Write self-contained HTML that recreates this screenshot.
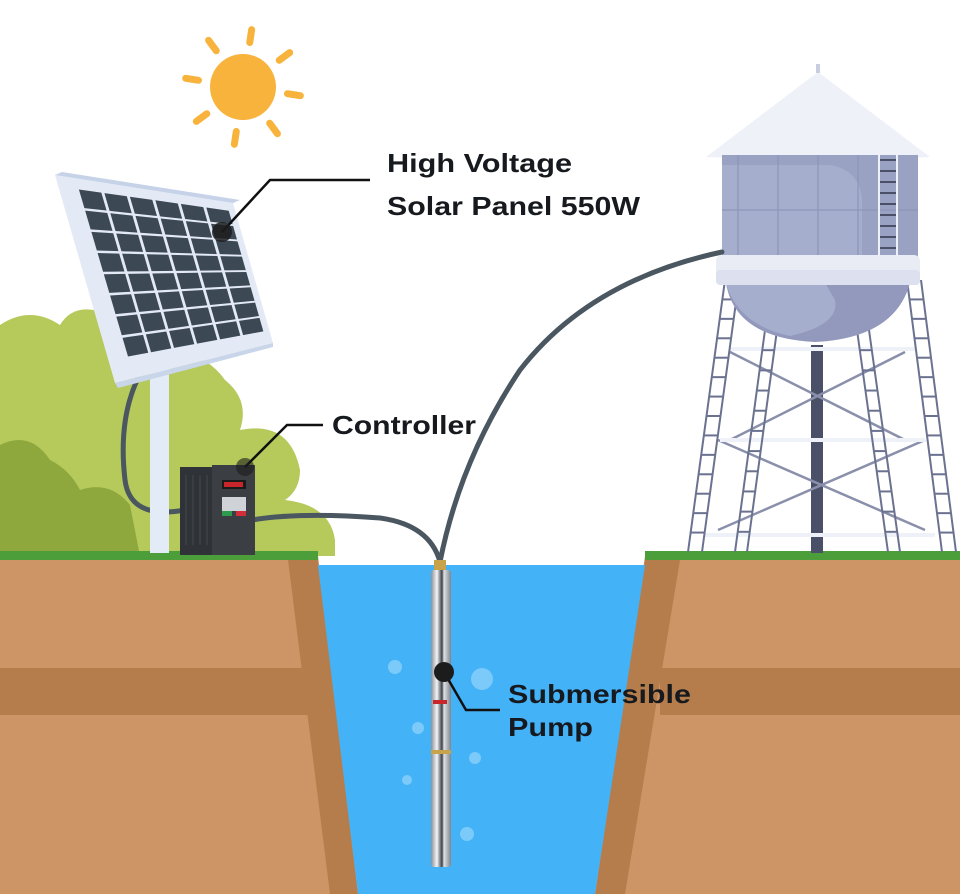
<!DOCTYPE html>
<html><head><meta charset="utf-8"><style>
html,body{margin:0;padding:0;background:#fff;}
svg{display:block}
text{font-family:"Liberation Sans",sans-serif;font-weight:bold;fill:#161a1e}
</style></head><body>
<svg id="s" width="960" height="894" viewBox="0 0 960 894" xmlns="http://www.w3.org/2000/svg">
<rect width="960" height="894" fill="#fff"/>
<!-- bushes -->
<path d="M0 325 Q30 305 60 325 Q75 300 110 315 L160 360 Q200 345 225 380 Q250 400 240 430 Q290 420 300 470 Q300 490 285 500 Q330 505 335 540 L335 556 L0 556 Z" fill="#b6c95b"/>
<path d="M0 445 Q30 430 50 460 Q70 470 80 490 Q110 480 130 505 L140 556 L0 556 Z" fill="#8fa83e"/>
<!-- sun -->
<g stroke="#f8b33d" stroke-width="7" stroke-linecap="round" fill="none" id="rays"></g>
<circle cx="243" cy="87" r="33" fill="#f8b33d"/>
<!-- ground left -->
<polygon points="0,556 318,556 358,894 0,894" fill="#cd9466"/>
<polygon points="288,560 318,560 358,894 330,894" fill="#b67d4c"/>
<rect x="0" y="668" width="310" height="47" fill="#b67d4c"/>
<rect x="0" y="551" width="318" height="9" fill="#4c9e3a"/>
<!-- ground right -->
<polygon points="645,556 960,556 960,894 595,894" fill="#cd9466"/>
<polygon points="645,560 680,560 625,894 595,894" fill="#b67d4c"/>
<rect x="660" y="668" width="300" height="47" fill="#b67d4c"/>
<rect x="645" y="551" width="315" height="9" fill="#4c9e3a"/>
<!-- water -->
<polygon points="318,565 645,565 595,894 358,894" fill="#43b2f7"/>
<g fill="#7ccaf9">
<circle cx="395" cy="667" r="7"/><circle cx="482" cy="679" r="11"/><circle cx="418" cy="728" r="6"/><circle cx="475" cy="758" r="6"/><circle cx="407" cy="780" r="5"/><circle cx="467" cy="834" r="7"/>
</g>
<!-- tower -->
<g id="tower">
<rect x="811" y="345" width="12" height="208" fill="#4a5068"/>
<g id="legs"></g>
<path d="M706 157 L818 72 L930 157 Q818 162 706 157Z" fill="#eef1f8"/>
<rect x="816" y="64" width="4" height="9" fill="#c8cde0"/>
<rect x="722" y="155" width="196" height="102" fill="#9aa2c4"/>
<path d="M722 165 L830 165 Q860 170 862 200 L862 257 L722 257Z" fill="#a6aecd"/>
<g stroke="#8890b5" stroke-width="1"><line x1="738" y1="155" x2="738" y2="257"/><line x1="778" y1="155" x2="778" y2="257"/><line x1="818" y1="155" x2="818" y2="257"/><line x1="858" y1="155" x2="858" y2="257"/><line x1="722" y1="210" x2="918" y2="210"/></g>
<path d="M726 283 Q735 338 815 342 Q895 338 910 283Z" fill="#9299bd"/>
<path d="M726 283 Q738 325 790 336 Q840 325 835 300 L825 283Z" fill="#a6aecd"/>
<rect x="716" y="255" width="204" height="30" rx="6" fill="#e9ecf5"/>
<rect x="716" y="270" width="204" height="15" rx="4" fill="#dde1ef"/>
<g id="tl" stroke="#eef1f8" stroke-width="2" fill="none"><path d="M879 256 L879 144 Q888 136 897 144 L897 256"/></g>
</g>
<!-- cables -->
<g fill="none" stroke="#4a5660" stroke-width="5" stroke-linecap="round">
<path d="M138 378 Q118 420 125 480 Q130 520 185 510"/>
<path d="M252 520 Q300 512 380 518 Q430 525 440 562"/>
<path d="M440 562 Q460 460 520 370 Q590 280 722 252"/>
</g>
<!-- pole -->
<rect x="150" y="360" width="19" height="193" fill="#e3ebf6"/>
<!-- solar panel -->
<polygon points="55,175 233,203 273,343 115,383" fill="#e3eaf6"/>
<polygon points="55,175 62,172 240,200 233,203" fill="#c5d2e8"/>
<polygon points="115,383 273,343 273,347 118,388" fill="#c9d6ea"/>
<g id="cells" fill="#3c4955"></g>
<!-- controller -->
<rect x="180" y="467" width="40" height="88" fill="#2f3236"/>
<g stroke="#45494f" stroke-width="1"><line x1="186" y1="475" x2="186" y2="545"/><line x1="193" y1="475" x2="193" y2="545"/><line x1="200" y1="475" x2="200" y2="545"/><line x1="207" y1="475" x2="207" y2="545"/></g>
<rect x="212" y="465" width="43" height="90" fill="#3b3e43"/>
<rect x="222" y="480" width="24" height="9" fill="#1a1a1a"/><rect x="224" y="482" width="19" height="5" fill="#c8262a"/>
<rect x="222" y="497" width="24" height="14" fill="#cfd2d6"/>
<rect x="222" y="511" width="10" height="5" fill="#2e9b4c"/><rect x="236" y="511" width="10" height="5" fill="#d22f3a"/>
<!-- pump -->
<defs><linearGradient id="pg" x1="0" x2="1"><stop offset="0" stop-color="#8a8f96"/><stop offset=".3" stop-color="#f3f5f7"/><stop offset=".55" stop-color="#3c4148"/><stop offset=".65" stop-color="#dfe3e7"/><stop offset="1" stop-color="#7d838a"/></linearGradient></defs>
<rect x="434" y="560" width="12" height="10" fill="#c9a24c"/>
<rect x="431" y="570" width="20" height="297" rx="3" fill="url(#pg)"/>
<rect x="433" y="700" width="14" height="4" fill="#c8262a"/>
<rect x="431" y="750" width="20" height="4" fill="#c9a24c"/>
<!-- callouts -->
<g stroke="#111" stroke-width="2.5" fill="none">
<polyline points="222,232 270,180 370,180"/>
<polyline points="245,467 287,425 323,425"/>
<polyline points="444,672 466,710 500,710"/>
</g>
<circle cx="222" cy="232" r="10" fill="#1c1c1c" opacity=".85"/>
<circle cx="245" cy="467" r="9" fill="#1c1c1c" opacity=".6"/>
<circle cx="444" cy="672" r="10" fill="#1c1c1c"/>
<text x="387" y="172" font-size="26" textLength="185" lengthAdjust="spacingAndGlyphs">High Voltage</text>
<text x="387" y="215" font-size="26" textLength="253" lengthAdjust="spacingAndGlyphs">Solar Panel 550W</text>
<text x="332" y="434" font-size="26" textLength="144" lengthAdjust="spacingAndGlyphs">Controller</text>
<text x="508" y="703" font-size="26" textLength="183" lengthAdjust="spacingAndGlyphs">Submersible</text>
<text x="508" y="736" font-size="26" textLength="85" lengthAdjust="spacingAndGlyphs">Pump</text>
</svg>
<script>
var NS="http://www.w3.org/2000/svg";
function el(p,t,a){var e=document.createElementNS(NS,t);for(var k in a)e.setAttribute(k,a[k]);p.appendChild(e);return e;}
var r=document.getElementById("rays");
for(var i=0;i<8;i++){var a=i*Math.PI/4-Math.PI/2+0.15;el(r,"line",{x1:243+45*Math.cos(a),y1:87+45*Math.sin(a),x2:243+58*Math.cos(a),y2:87+58*Math.sin(a)});}
var TL=[77,188],TR=[230,210],BR=[265,332],BL=[127,358];
function P(u,v){var tx=TL[0]+(TR[0]-TL[0])*u,ty=TL[1]+(TR[1]-TL[1])*u,bx=BL[0]+(BR[0]-BL[0])*u,by=BL[1]+(BR[1]-BL[1])*u;return [tx+(bx-tx)*v,ty+(by-ty)*v];}
var c=document.getElementById("cells"),C=6,R=8,g=0.06;
for(var i=0;i<C;i++)for(var j=0;j<R;j++){var u0=i/C+g/C,u1=(i+1)/C-g/C,v0=j/R+g/R,v1=(j+1)/R-g/R;
var p=[P(u0,v0),P(u1,v0),P(u1,v1),P(u0,v1)];el(c,"polygon",{points:p.map(function(q){return q.join(",")}).join(" ")});}
var L=document.getElementById("legs");
function ladder(x1,y1,x2,y2,w){el(L,"line",{x1:x1,y1:y1,x2:x2,y2:y2,stroke:"#6b7290","stroke-width":2});el(L,"line",{x1:x1+w,y1:y1,x2:x2+w,y2:y2,stroke:"#6b7290","stroke-width":2});
var n=Math.round((y2-y1)/20);for(var k=1;k<n;k++){var t=k/n;el(L,"line",{x1:x1+(x2-x1)*t,y1:y1+(y2-y1)*t,x2:x1+w+(x2-x1)*t,y2:y1+(y2-y1)*t,stroke:"#6b7290","stroke-width":2});}}
var br=[[730,352,905,440],[905,352,730,440],[718,440,925,530],[925,440,718,530]];
br.forEach(function(b){el(L,"line",{x1:b[0],y1:b[1],x2:b[2],y2:b[3],stroke:"#8a90ab","stroke-width":2.5});});
[[730,349,915,349],[720,440,925,440],[705,535,935,535]].forEach(function(b){el(L,"line",{x1:b[0],y1:b[1],x2:b[2],y2:b[3],stroke:"#eef1f8","stroke-width":4});});
ladder(725,280,688,552,14);ladder(765,330,735,552,12);ladder(857,330,888,552,12);ladder(907,280,942,552,14);
var tl=document.getElementById("tl");for(var y=160;y<255;y+=11)el(tl,"line",{x1:880,y1:y,x2:896,y2:y,stroke:"#4a5068","stroke-width":2});
</script>
</body></html>
